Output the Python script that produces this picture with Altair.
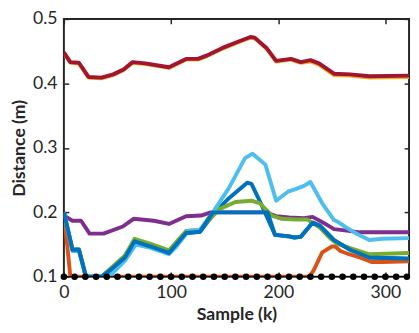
import altair as alt
import pandas as pd

# ---- data ----
k_blue = [0, 8, 14, 20, 22, 35, 43, 57, 66, 81, 98, 114, 127, 142, 154, 171, 175, 184, 197, 209, 215, 221, 232, 239, 252, 267, 285, 322]
v_blue = [0.200, 0.142, 0.142, 0.104, 0.100, 0.100, 0.110, 0.130, 0.155, 0.147, 0.137, 0.168, 0.170, 0.202, 0.222, 0.246, 0.244, 0.213, 0.165, 0.163, 0.161, 0.162, 0.184, 0.179, 0.157, 0.142, 0.130, 0.128]

k_orange = [0, 6, 7, 229, 233, 241, 250, 253, 258, 266, 276, 287, 297, 322]
v_orange = [0.200, 0.101, 0.100, 0.100, 0.110, 0.138, 0.147, 0.147, 0.140, 0.135, 0.130, 0.123, 0.123, 0.124]

k_yellow = [0, 6, 14, 23, 35, 46, 56, 64, 76, 98, 114, 125, 133, 148, 163, 174, 178, 189, 198, 212, 221, 230, 238, 252, 267, 285, 322]
v_yellow = [0.447, 0.432, 0.431, 0.409, 0.408, 0.413, 0.421, 0.432, 0.430, 0.424, 0.437, 0.437, 0.442, 0.454, 0.464, 0.471, 0.470, 0.454, 0.434, 0.437, 0.432, 0.434, 0.429, 0.413, 0.412, 0.409, 0.410]

k_purple = [0, 2, 8, 16, 24, 37, 55, 65, 84, 98, 114, 128, 137, 188, 198, 210, 224, 232, 242, 252, 262, 276, 322]
v_purple = [0.198, 0.193, 0.187, 0.187, 0.167, 0.167, 0.178, 0.190, 0.187, 0.182, 0.194, 0.195, 0.200, 0.200, 0.194, 0.192, 0.191, 0.193, 0.184, 0.174, 0.172, 0.169, 0.169]

k_green = [0, 8, 14, 20, 22, 35, 43, 57, 66, 81, 98, 114, 127, 145, 160, 175, 183, 194, 203, 216, 227, 239, 249, 255, 270, 285, 322]
v_green = [0.200, 0.143, 0.143, 0.105, 0.100, 0.100, 0.112, 0.133, 0.159, 0.151, 0.141, 0.171, 0.173, 0.205, 0.216, 0.218, 0.214, 0.195, 0.190, 0.189, 0.189, 0.176, 0.159, 0.151, 0.143, 0.135, 0.137]

k_lightblue = [0, 8, 14, 20, 22, 38, 45, 57, 67, 81, 98, 105, 116, 127, 139, 154, 169, 176, 188, 198, 209, 216, 224, 230, 241, 252, 256, 264, 274, 285, 297, 322]
v_lightblue = [0.200, 0.140, 0.140, 0.103, 0.100, 0.100, 0.105, 0.125, 0.150, 0.145, 0.135, 0.147, 0.171, 0.173, 0.200, 0.238, 0.284, 0.291, 0.274, 0.218, 0.232, 0.236, 0.241, 0.247, 0.214, 0.188, 0.185, 0.176, 0.166, 0.157, 0.159, 0.160]

k_darkred = [0, 6, 14, 23, 35, 46, 56, 64, 76, 98, 114, 125, 133, 148, 163, 174, 178, 189, 198, 212, 221, 230, 238, 252, 267, 285, 322]
v_darkred = [0.448, 0.433, 0.432, 0.410, 0.409, 0.414, 0.422, 0.433, 0.431, 0.425, 0.438, 0.438, 0.443, 0.455, 0.465, 0.472, 0.471, 0.455, 0.435, 0.438, 0.433, 0.436, 0.431, 0.415, 0.414, 0.411, 0.412]

k_blue2 = [0, 8, 14, 20, 22, 35, 43, 57, 66, 81, 98, 114, 127, 139, 190, 197, 209, 215, 221, 232, 239, 252, 267, 285, 322]
v_blue2 = [0.200, 0.142, 0.142, 0.104, 0.100, 0.100, 0.110, 0.130, 0.155, 0.147, 0.137, 0.168, 0.170, 0.200, 0.200, 0.165, 0.163, 0.161, 0.162, 0.184, 0.179, 0.157, 0.142, 0.130, 0.128]

k_ref = [0, 10, 20, 30, 40, 50, 60, 70, 80, 90, 100, 110, 120, 130, 140, 150, 160, 170, 180, 190, 200, 210, 220, 230, 240, 250, 260, 270, 280, 290, 300, 310, 320]
v_ref = [0.1] * len(k_ref)

x_ticks = [0, 100, 200, 300]
y_ticks = [0.1, 0.2, 0.3, 0.4, 0.5]

series = [
    ("blue", k_blue, v_blue, "#0072BD"),
    ("orange", k_orange, v_orange, "#D95319"),
    ("yellow", k_yellow, v_yellow, "#EDB120"),
    ("purple", k_purple, v_purple, "#7E2F8E"),
    ("green", k_green, v_green, "#77AC30"),
    ("lightblue", k_lightblue, v_lightblue, "#4DBEEE"),
    ("darkred", k_darkred, v_darkred, "#A2142F"),
    ("blue2", k_blue2, v_blue2, "#0072BD"),
]

rows = []
for name, ks, vs, _ in series:
    for i, (k, v) in enumerate(zip(ks, vs)):
        rows.append({"s": name, "k": k, "v": v, "i": i})
for i, (k, v) in enumerate(zip(k_ref, v_ref)):
    rows.append({"s": "ref", "k": k, "v": v, "i": i})
df = pd.DataFrame(rows)

INK = "#262626"
xs = alt.Scale(domain=[0, 322], nice=False, zero=False)
ys = alt.Scale(domain=[0.1, 0.5], nice=False, zero=False)

common = dict(grid=False, domain=False, tickSize=5, offset=-5, tickColor=INK,
              tickWidth=1.5, labelFont="Lato", labelFontSize=18, labelColor=INK,
              labelFlush=False, labelOverlap=False,
              titleFont="Lato", titleFontSize=18, titleFontWeight="bold", titleColor=INK)

x_bottom = alt.Axis(orient="bottom", values=x_ticks, title="Sample (k)",
                    labelPadding=7, titlePadding=5, **common)
y_left = alt.Axis(orient="left", values=y_ticks, format=".1f", title="Distance (m)",
                  labelPadding=7, titlePadding=4, **common)
x_top = alt.Axis(orient="top", values=x_ticks, labels=False, title="", **common)
y_right = alt.Axis(orient="right", values=y_ticks, labels=False, title="", **common)

base = alt.Chart(df)
layers = []
for idx, (name, _, _, col) in enumerate(series):
    xa = x_bottom if idx == 0 else None
    ya = y_left if idx == 0 else None
    layers.append(
        base.transform_filter(alt.datum.s == name)
        .mark_line(color=col, strokeWidth=4, clip=True, strokeJoin="round")
        .encode(
            x=alt.X("k:Q", scale=xs, axis=xa),
            y=alt.Y("v:Q", scale=ys, axis=ya),
            order="i:Q",
        )
    )

ref_line = (
    base.transform_filter(alt.datum.s == "ref")
    .mark_line(color="black", strokeWidth=1.5, clip=True)
    .encode(x=alt.X("k:Q", scale=xs, axis=x_top),
            y=alt.Y("v:Q", scale=ys, axis=y_right), order="i:Q")
)
ref_pts = (
    base.transform_filter(alt.datum.s == "ref")
    .mark_circle(color="black", size=45, opacity=1, clip=False)
    .encode(x=alt.X("k:Q", scale=xs, axis=None),
            y=alt.Y("v:Q", scale=ys, axis=None))
)

chart = (
    alt.layer(*layers, ref_line, ref_pts)
    .resolve_axis(x="independent", y="independent")
    .properties(width=352, height=263,
                autosize=alt.AutoSizeParams(type="none"),
                padding={"left": 57, "top": 8, "right": 2, "bottom": 46},
                background="white")
    .configure_view(stroke=INK, strokeWidth=2)
)

chart.save("out.html", embed_options={"renderer": "svg", "actions": False})
